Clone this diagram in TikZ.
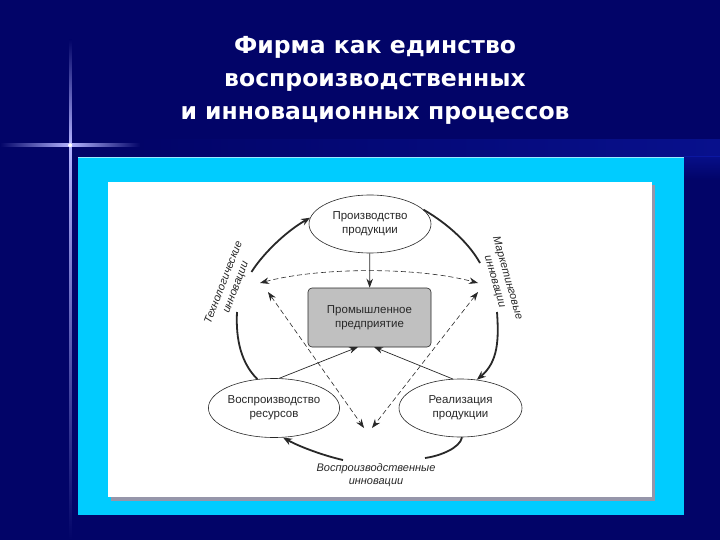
\documentclass[tikz,border=0pt]{standalone}
\usepackage{fontspec}
\setmainfont{Liberation Sans}
\newfontfamily\titlefont{DejaVu Sans}
\usetikzlibrary{shapes.geometric,arrows.meta}
\definecolor{navy}{RGB}{2,4,104}
\definecolor{brightblue}{RGB}{20,40,210}
\definecolor{cyanp}{RGB}{0,204,255}
\definecolor{shadowg}{RGB}{150,150,170}
\definecolor{boxg}{RGB}{192,192,192}
\definecolor{ink}{RGB}{40,40,40}
\begin{document}
\begin{tikzpicture}[x=1pt,y=-1pt,
  ell/.style={ellipse, draw=ink, line width=0.6pt, fill=white, inner sep=0pt, align=center,
    text=ink, font=\fontsize{11.5}{14}\selectfont},
  centerbox/.style={rectangle, rounded corners=4pt, draw=ink, line width=0.6pt, fill=boxg,
    align=center, text=ink, font=\fontsize{11.5}{14}\selectfont,
    minimum width=123pt, minimum height=59pt, inner sep=0pt},
  lbl/.style={align=center, text=ink, font=\itshape\fontsize{11}{13}\selectfont, inner sep=0pt},
  cycle/.style={draw=ink, line width=1.8pt, -{Stealth[length=9pt,width=7pt]}},
  thinarrow/.style={draw=ink, line width=0.7pt, -{Stealth[length=9pt,width=6.5pt]}},
  dasharrow/.style={draw=ink, line width=0.6pt, dash pattern=on 5pt off 3pt,
    {Stealth[length=9pt,width=6.5pt]}-{Stealth[length=9pt,width=6.5pt]}},
  titletext/.style={text=white, font=\titlefont\bfseries\fontsize{23.5}{28}\selectfont, anchor=base, inner sep=0pt}
]
\useasboundingbox (0,0) rectangle (720,540);
% background
\fill[navy] (0,0) rectangle (720,540);
\shade[left color=navy, right color=brightblue, opacity=0.35] (130,140) rectangle (720,157);
\shade[top color=brightblue, bottom color=navy, opacity=0.3] (684,157) rectangle (720,180);
% decorative cross
\shade[left color=navy, right color=white!70!blue] (0,144) rectangle (70,146.5);
\shade[left color=white!70!blue, right color=navy] (70,144) rectangle (140,146.5);
\shade[top color=navy, bottom color=white!70!blue] (69,40) rectangle (71.5,145);
\shade[top color=white!70!blue, bottom color=navy] (69,145) rectangle (71.5,540);
\fill[white] (70.2,145.2) circle (2pt);
% title
\node[titletext] (t1) at (375,54) {Фирма как единство};
\node[titletext] (t2) at (375,87) {воспроизводственных};
\node[titletext] (t3) at (375,119.5) {и инновационных процессов};
% panels
\fill[cyanp] (78,157) rectangle (684,515);
\draw[white!60!cyanp, line width=1.5pt] (78,157.5) -- (684,157.5);
\fill[shadowg] (111,185) rectangle (655,501);
\fill[white] (108,182) rectangle (652,497);
% nodes
\node[ell, minimum width=122pt, minimum height=58pt] (P) at (370,224) {Производство\\продукции};
\node[centerbox] (E) at (369.5,317.5) {Промышленное\\предприятие};
\node[ell, minimum width=122pt, minimum height=59pt] (R) at (274,408) {Воспроизводство\\ресурсов};
\node[ell, minimum width=123pt, minimum height=58pt] (S) at (460.5,408) {Реализация\\продукции};
% labels
\node[lbl, rotate=69] (TL) at (230,285) {Технологические\\инновации};
\node[lbl, rotate=-74] (ML) at (501,280) {Маркетинговые\\инновации};
\node[lbl] (VL) at (376,475) {Воспроизводственные\\инновации};
% coordinates
\coordinate (e1) at (358,347);
\coordinate (e2) at (374,347);
\coordinate (dl) at (260,283);
\coordinate (dr) at (478,283);
\coordinate (dl2) at (268,292);
\coordinate (dr2) at (478,292);
\coordinate (db1) at (364,428);
\coordinate (db2) at (372,428);
\coordinate (ta) at (237,312);
\coordinate (tb) at (251.5,272);
\coordinate (ma) at (480,263);
\coordinate (mb) at (497,312);
\coordinate (va) at (425,458);
\coordinate (vb) at (343,460);
% thin arrows
\draw[thinarrow] (P) -- (E);
\draw[thinarrow] (R.80) -- (e1);
\draw[thinarrow] (S.105) -- (e2);
% dashed arrows
\draw[dasharrow] (dl) .. controls (320,267) and (418,267) .. (dr);
\draw[dasharrow] (dl2) -- (db1);
\draw[dasharrow] (dr2) -- (db2);
% outer cycle
\draw[draw=ink, line width=1.8pt] (R.120) .. controls (238,360) and (236,332) .. (ta);
\draw[cycle] (tb) .. controls (262,255) and (285,232) .. (P.174);
\draw[draw=ink, line width=1.8pt] (P.15) .. controls (450,225) and (470,245) .. (ma);
\draw[cycle] (mb) .. controls (499,340) and (498,362) .. (S.60);
\draw[draw=ink, line width=1.8pt] (S.273) .. controls (460,448) and (440,456) .. (va);
\draw[cycle] (vb) .. controls (325,456) and (300,447) .. (R.287);
\end{tikzpicture}
\end{document}
